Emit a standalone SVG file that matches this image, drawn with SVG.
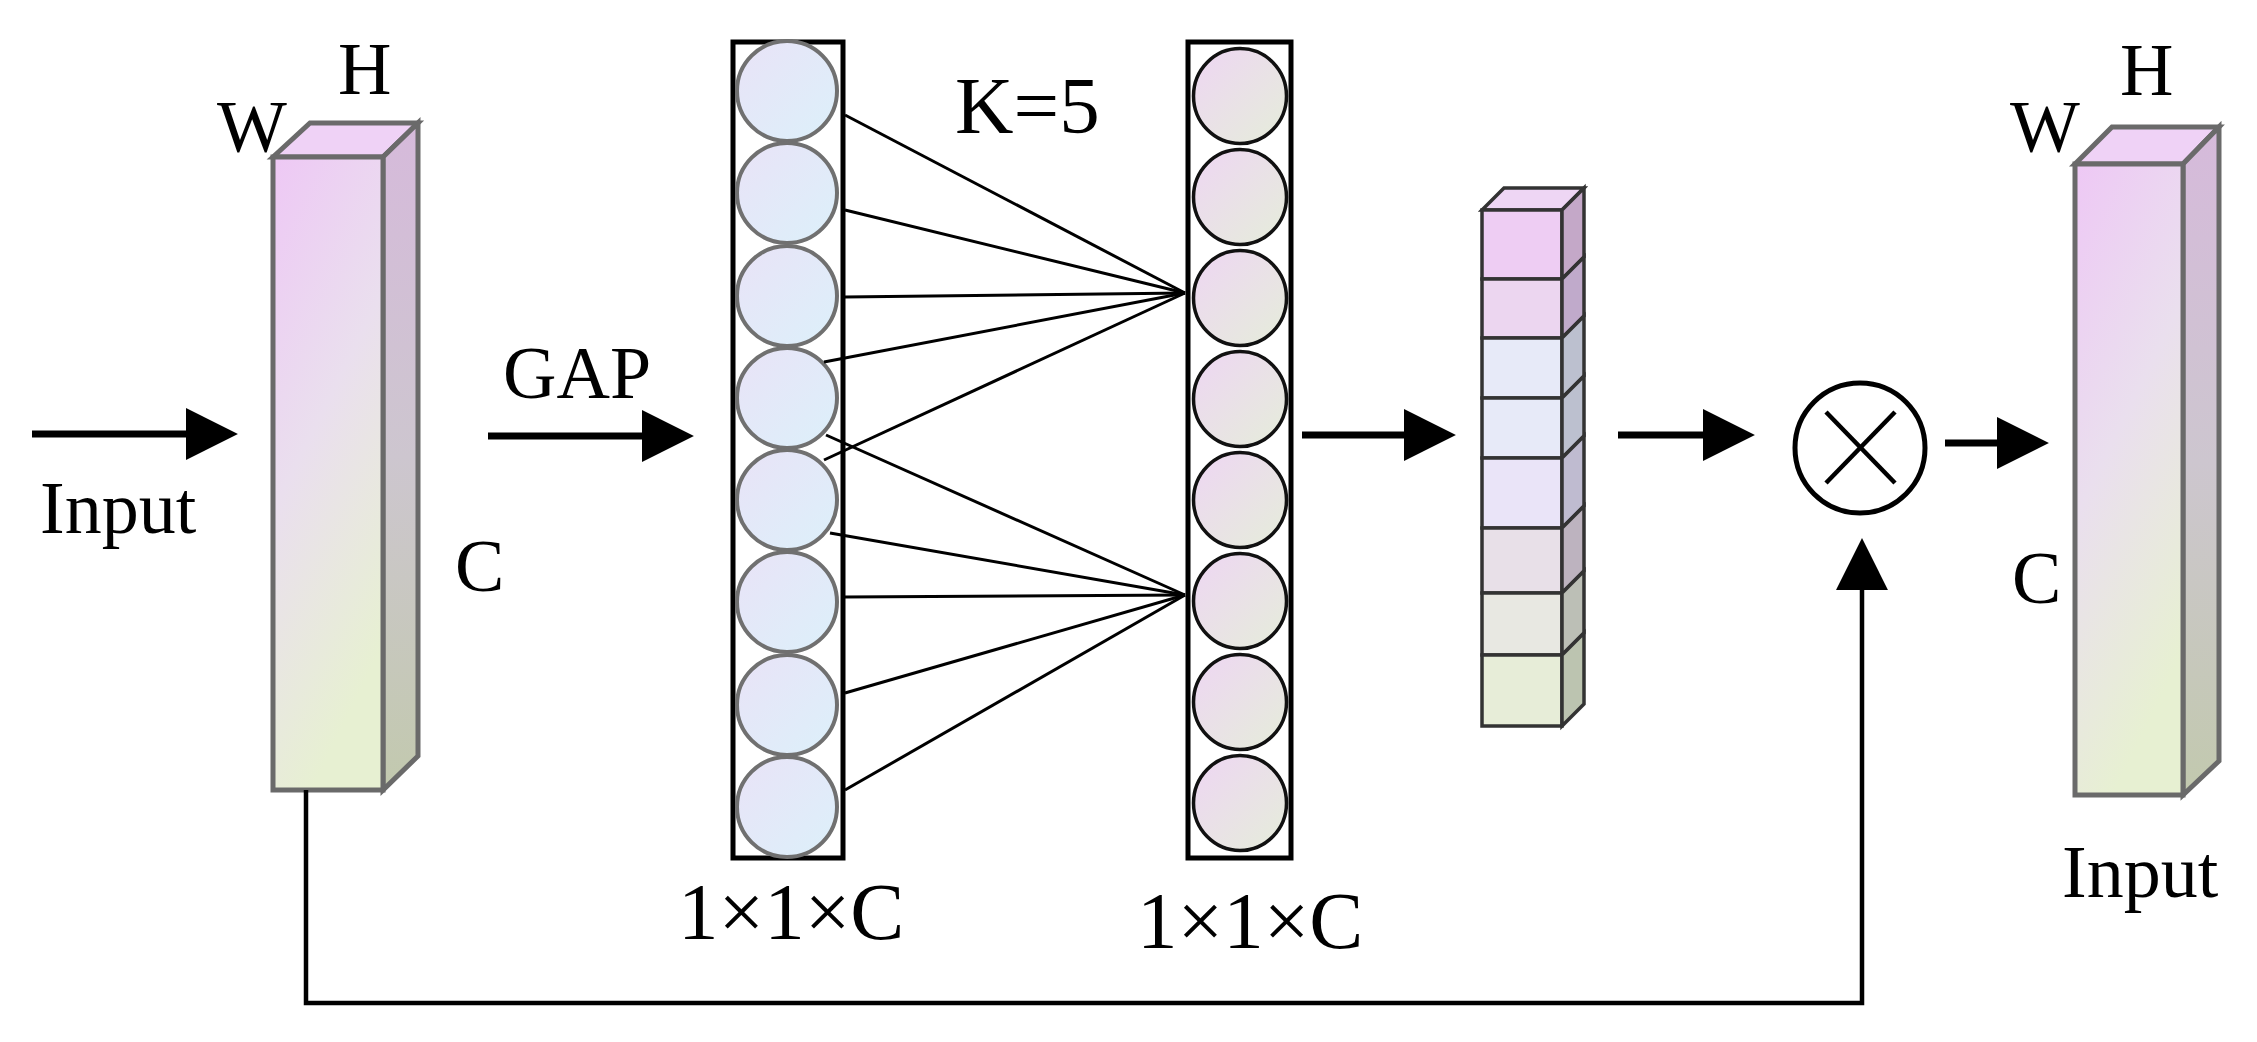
<svg xmlns="http://www.w3.org/2000/svg" width="2257" height="1042" viewBox="0 0 2257 1042">
<defs>
<linearGradient id="gFront" x1="0" y1="0" x2="0.35" y2="1"><stop offset="0" stop-color="#EEC8F5"/><stop offset="0.5" stop-color="#EADFEE"/><stop offset="1" stop-color="#E7F0D2"/></linearGradient>
<linearGradient id="gSide" x1="0" y1="0" x2="0" y2="1"><stop offset="0" stop-color="#D6BADB"/><stop offset="0.5" stop-color="#CDC6CF"/><stop offset="1" stop-color="#C2C9AE"/></linearGradient>
<linearGradient id="gCircL" x1="0" y1="0" x2="1" y2="1"><stop offset="0" stop-color="#E9E3F7"/><stop offset="1" stop-color="#DCF0FA"/></linearGradient>
<linearGradient id="gCircR" x1="0" y1="0" x2="1" y2="1"><stop offset="0" stop-color="#EED6F3"/><stop offset="1" stop-color="#E5EDDA"/></linearGradient>
<marker id="ah" markerUnits="userSpaceOnUse" markerWidth="52" markerHeight="52" refX="2" refY="25" orient="auto" viewBox="0 0 50 50"><path d="M0,0 L50,25 L0,50 z" fill="#000"/></marker>
</defs>
<style>
.t{font-family:"Liberation Serif","Times New Roman",serif;font-size:74px;fill:#000}
.tl{font-family:"Liberation Serif","Times New Roman",serif;font-size:81px;fill:#000}
.box{stroke:#6A6A6A;stroke-width:5;stroke-linejoin:miter}
.col{fill:#fff;stroke:#000;stroke-width:5}
.cl{fill:url(#gCircL);stroke:#707070;stroke-width:4}
.cr{fill:url(#gCircR);stroke:#111;stroke-width:3.5}
.cell{stroke:#333;stroke-width:3.5;stroke-linejoin:miter}
.arr{fill:none;stroke:#000;stroke-width:7;marker-end:url(#ah)}
.fan{stroke:#000;stroke-width:3;fill:none}
</style>

<g id="input-tensor">
<polygon class="box" points="273,157 310,123 418,123 383,157" fill="#EFD2F6"/>
<polygon class="box" points="383,157 418,123 418,756 383,790" fill="url(#gSide)"/>
<rect class="box" x="273" y="157" width="110" height="633" fill="url(#gFront)"/>
<text class="t" x="217" y="152">W</text>
<text class="t" x="338" y="94">H</text>
<text class="t" x="455" y="591">C</text>
<text class="t" x="40" y="533">Input</text>
</g>

<g id="gap-vector">
<rect class="col" x="733" y="42" width="110" height="816"/>
<circle class="cl" cx="787" cy="91" r="50"/>
<circle class="cl" cx="787" cy="193" r="50"/>
<circle class="cl" cx="787" cy="296" r="50"/>
<circle class="cl" cx="787" cy="398" r="50"/>
<circle class="cl" cx="787" cy="500" r="50"/>
<circle class="cl" cx="787" cy="602" r="50"/>
<circle class="cl" cx="787" cy="705" r="50"/>
<circle class="cl" cx="787" cy="807" r="50"/>
<text class="tl" x="678" y="939">1×1×C</text>
</g>

<g id="conv-vector">
<rect class="col" x="1188" y="42" width="103" height="816"/>
<ellipse class="cr" cx="1240" cy="96" rx="46.5" ry="47.5"/>
<ellipse class="cr" cx="1240" cy="197" rx="46.5" ry="47.5"/>
<ellipse class="cr" cx="1240" cy="298" rx="46.5" ry="47.5"/>
<ellipse class="cr" cx="1240" cy="399" rx="46.5" ry="47.5"/>
<ellipse class="cr" cx="1240" cy="500" rx="46.5" ry="47.5"/>
<ellipse class="cr" cx="1240" cy="601" rx="46.5" ry="47.5"/>
<ellipse class="cr" cx="1240" cy="702" rx="46.5" ry="47.5"/>
<ellipse class="cr" cx="1240" cy="803" rx="46.5" ry="47.5"/>
<text class="tl" x="1137" y="948">1×1×C</text>
</g>

<g id="k-label">
<text class="tl" x="955" y="133">K=5</text>
</g>

<g id="weights">
<polygon class="cell" points="1482,210 1504,188 1584,188 1562,210" fill="#EED6F4"/>
<rect class="cell" x="1482" y="210" width="80" height="69" fill="#EECDF3"/>
<polygon class="cell" points="1562,210 1584,188 1584,257 1562,279" fill="#C4A8C8"/>
<rect class="cell" x="1482" y="279" width="80" height="59" fill="#ECD6F0"/>
<polygon class="cell" points="1562,279 1584,257 1584,316 1562,338" fill="#C0AACB"/>
<rect class="cell" x="1482" y="338" width="80" height="60" fill="#E7EAF8"/>
<polygon class="cell" points="1562,338 1584,316 1584,376 1562,398" fill="#BCC0CF"/>
<rect class="cell" x="1482" y="398" width="80" height="60" fill="#E7EAF8"/>
<polygon class="cell" points="1562,398 1584,376 1584,436 1562,458" fill="#BCC0CF"/>
<rect class="cell" x="1482" y="458" width="80" height="70" fill="#EAE4F8"/>
<polygon class="cell" points="1562,458 1584,436 1584,506 1562,528" fill="#BFBBD0"/>
<rect class="cell" x="1482" y="528" width="80" height="65" fill="#E8E0E8"/>
<polygon class="cell" points="1562,528 1584,506 1584,571 1562,593" fill="#BDB3BF"/>
<rect class="cell" x="1482" y="593" width="80" height="62" fill="#E8E8E2"/>
<polygon class="cell" points="1562,593 1584,571 1584,633 1562,655" fill="#BCBFB6"/>
<rect class="cell" x="1482" y="655" width="80" height="71" fill="#E7EDD8"/>
<polygon class="cell" points="1562,655 1584,633 1584,704 1562,726" fill="#BCC4B0"/>
</g>

<g id="multiply">
<circle cx="1860" cy="448" r="65" fill="#fff" stroke="#000" stroke-width="5"/>
<line x1="1826" y1="412" x2="1895" y2="483" stroke="#000" stroke-width="4.5"/>
<line x1="1895" y1="412" x2="1826" y2="483" stroke="#000" stroke-width="4.5"/>
</g>

<g id="output-tensor">
<polygon class="box" points="2075,164 2112,127 2219,127 2183,164" fill="#EFD2F6"/>
<polygon class="box" points="2183,164 2219,127 2219,761 2183,795" fill="url(#gSide)"/>
<rect class="box" x="2075" y="164" width="108" height="631" fill="url(#gFront)"/>
<text class="t" x="2010" y="152">W</text>
<text class="t" x="2120" y="95">H</text>
<text class="t" x="2012" y="603">C</text>
<text class="t" x="2062" y="897">Input</text>
</g>

<g id="connectors">
<line class="arr" x1="32" y1="434" x2="188" y2="434"/>
<line class="arr" x1="488" y1="436" x2="644" y2="436"/>
<text class="t" x="503" y="398">GAP</text>
<line class="arr" x1="1302" y1="435" x2="1406" y2="435"/>
<line class="arr" x1="1618" y1="435" x2="1705" y2="435"/>
<line class="arr" x1="1945" y1="443" x2="1999" y2="443"/>
<path d="M306,790 L306,1003 L1862,1003 L1862,588" fill="none" stroke="#000" stroke-width="4.5" marker-end="url(#ah)"/>
<line class="fan" x1="845" y1="115" x2="1185" y2="293"/>
<line class="fan" x1="845" y1="210" x2="1185" y2="293"/>
<line class="fan" x1="845" y1="297" x2="1185" y2="293"/>
<line class="fan" x1="824" y1="362" x2="1185" y2="293"/>
<line class="fan" x1="824" y1="460" x2="1185" y2="293"/>
<line class="fan" x1="826" y1="435" x2="1185" y2="595"/>
<line class="fan" x1="830" y1="533" x2="1185" y2="595"/>
<line class="fan" x1="845" y1="597" x2="1185" y2="595"/>
<line class="fan" x1="845" y1="693" x2="1185" y2="595"/>
<line class="fan" x1="845" y1="790" x2="1185" y2="595"/>
</g>
</svg>
